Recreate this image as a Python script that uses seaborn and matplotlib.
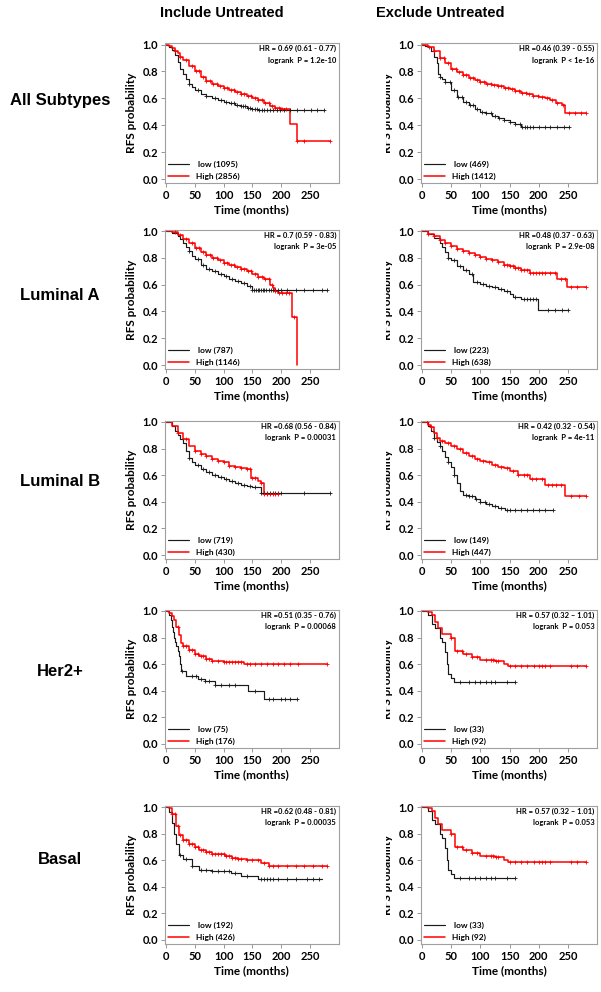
"""
Kaplan-Meier RFS curves by subtype, include / exclude untreated patients.
"""

import numpy as np
import matplotlib
matplotlib.use('Agg')
import matplotlib.pyplot as plt
import seaborn as sns
from matplotlib.transforms import Bbox

# ── Data ───────────────────────────────────────────────────────────────────────
# All subtypes, include untreated
all_inc_low_t = [0, 5, 10, 15, 20, 25, 30, 35, 40, 45, 50, 60, 70, 80, 90, 100, 110, 120, 130, 140, 150, 160, 275]
all_inc_low_s = [1.0, 0.985, 0.96, 0.92, 0.87, 0.82, 0.78, 0.74, 0.71, 0.685, 0.66, 0.635, 0.615, 0.6, 0.59, 0.575, 0.565, 0.55, 0.54, 0.525, 0.52, 0.515, 0.515]
all_inc_low_c = [40, 55, 70, 85, 95, 105, 112, 118, 124, 130, 134, 138, 142, 146, 150, 154, 158, 162, 166, 170, 175, 180, 186, 192, 198, 205, 215, 228, 240, 252, 263, 275]
all_inc_high_t = [0, 5, 10, 15, 20, 25, 30, 40, 50, 60, 70, 80, 90, 100, 110, 120, 130, 140, 150, 160, 170, 180, 190, 200, 215, 227, 285]
all_inc_high_s = [1.0, 0.99, 0.975, 0.955, 0.935, 0.91, 0.885, 0.84, 0.8, 0.76, 0.73, 0.71, 0.69, 0.675, 0.66, 0.65, 0.635, 0.62, 0.605, 0.585, 0.565, 0.545, 0.53, 0.52, 0.41, 0.28, 0.28]
all_inc_high_c = [15, 25, 35, 45, 52, 58, 64, 70, 76, 82, 88, 94, 100, 106, 112, 118, 124, 130, 136, 142, 148, 154, 160, 166, 172, 178, 184, 190, 196, 202, 208, 228, 240, 285]

# All subtypes, exclude untreated
all_exc_low_t = [0, 5, 10, 15, 20, 25, 27, 30, 35, 40, 50, 60, 70, 80, 90, 100, 110, 120, 130, 140, 150, 160, 170, 251]
all_exc_low_s = [1.0, 0.99, 0.98, 0.955, 0.91, 0.86, 0.78, 0.76, 0.74, 0.72, 0.66, 0.61, 0.575, 0.55, 0.52, 0.5, 0.49, 0.47, 0.455, 0.44, 0.425, 0.41, 0.385, 0.385]
all_exc_low_c = [30, 40, 48, 55, 62, 68, 75, 82, 88, 95, 102, 110, 118, 125, 132, 140, 150, 160, 168, 172, 176, 180, 185, 190, 200, 210, 220, 232, 244, 251]
all_exc_high_t = [0, 10, 20, 30, 40, 50, 60, 70, 80, 90, 100, 110, 120, 130, 140, 150, 160, 170, 180, 190, 200, 210, 220, 230, 240, 245, 280]
all_exc_high_s = [1.0, 0.98, 0.95, 0.9, 0.86, 0.82, 0.795, 0.77, 0.75, 0.735, 0.72, 0.71, 0.7, 0.69, 0.68, 0.67, 0.655, 0.64, 0.63, 0.62, 0.61, 0.6, 0.59, 0.565, 0.55, 0.49, 0.49]
all_exc_high_c = [12, 20, 30, 38, 45, 52, 58, 64, 70, 76, 82, 88, 94, 100, 106, 112, 118, 124, 130, 136, 142, 148, 154, 160, 166, 172, 178, 184, 190, 198, 206, 214, 222, 232, 242, 252, 262, 272, 280]

# Luminal A, include untreated
luma_inc_low_t = [0, 10, 20, 25, 30, 35, 40, 45, 50, 60, 70, 80, 90, 100, 110, 120, 130, 140, 150, 280]
luma_inc_low_s = [1.0, 0.985, 0.96, 0.94, 0.91, 0.88, 0.85, 0.815, 0.79, 0.75, 0.72, 0.7, 0.68, 0.665, 0.645, 0.625, 0.61, 0.59, 0.56, 0.56]
luma_inc_low_c = [40, 55, 65, 75, 85, 95, 105, 115, 125, 135, 145, 150, 153, 156, 159, 162, 165, 168, 171, 174, 178, 182, 186, 190, 195, 200, 210, 225, 240, 255, 270, 280]
luma_inc_high_t = [0, 10, 20, 30, 40, 50, 60, 70, 80, 90, 100, 110, 120, 130, 140, 150, 160, 170, 180, 185, 190, 195, 218, 228]
luma_inc_high_s = [1.0, 0.99, 0.97, 0.94, 0.91, 0.87, 0.845, 0.82, 0.8, 0.78, 0.76, 0.745, 0.73, 0.715, 0.7, 0.68, 0.66, 0.64, 0.6, 0.575, 0.555, 0.535, 0.36, 0.0]
luma_inc_high_c = [15, 25, 35, 45, 52, 58, 64, 70, 76, 82, 88, 94, 100, 106, 112, 118, 124, 130, 136, 142, 148, 154, 160, 166, 172, 178, 184, 190, 196, 202, 208, 213, 222]

# Luminal A, exclude untreated
luma_exc_low_t = [0, 10, 20, 30, 35, 40, 45, 50, 60, 70, 80, 88, 100, 110, 120, 130, 140, 150, 156, 170, 199, 250]
luma_exc_low_s = [1.0, 0.98, 0.95, 0.91, 0.88, 0.84, 0.8, 0.78, 0.74, 0.71, 0.68, 0.62, 0.605, 0.59, 0.58, 0.565, 0.55, 0.53, 0.51, 0.495, 0.41, 0.41]
luma_exc_low_c = [45, 55, 65, 75, 85, 95, 105, 115, 125, 135, 145, 160, 175, 180, 185, 190, 195, 215, 228, 240, 250]
luma_exc_high_t = [0, 10, 20, 30, 40, 50, 60, 70, 80, 90, 100, 110, 120, 130, 140, 150, 160, 170, 185, 232, 248, 280]
luma_exc_high_s = [1.0, 0.98, 0.96, 0.935, 0.91, 0.885, 0.865, 0.85, 0.835, 0.82, 0.805, 0.79, 0.78, 0.765, 0.75, 0.74, 0.725, 0.71, 0.685, 0.64, 0.58, 0.58]
luma_exc_high_c = [10, 20, 30, 40, 50, 60, 70, 80, 90, 100, 110, 120, 130, 140, 145, 150, 155, 160, 165, 170, 175, 180, 185, 190, 195, 200, 205, 210, 220, 228, 238, 245, 255, 265, 280]

# Luminal B, include untreated
lumb_inc_low_t = [0, 10, 15, 20, 25, 30, 35, 40, 45, 50, 60, 70, 80, 90, 100, 110, 120, 130, 140, 150, 165, 285]
lumb_inc_low_s = [1.0, 0.97, 0.93, 0.9, 0.87, 0.84, 0.78, 0.73, 0.7, 0.68, 0.65, 0.625, 0.605, 0.585, 0.57, 0.555, 0.54, 0.53, 0.52, 0.51, 0.465, 0.465]
lumb_inc_low_c = [40, 55, 65, 75, 85, 95, 105, 115, 125, 135, 145, 155, 165, 170, 175, 180, 185, 190, 195, 200, 240, 285]
lumb_inc_high_t = [0, 10, 20, 30, 40, 50, 60, 70, 80, 90, 100, 110, 120, 130, 140, 148, 160, 165, 170, 195]
lumb_inc_high_s = [1.0, 0.97, 0.92, 0.87, 0.82, 0.78, 0.76, 0.745, 0.72, 0.71, 0.7, 0.67, 0.66, 0.655, 0.645, 0.58, 0.56, 0.54, 0.455, 0.455]
lumb_inc_high_c = [20, 35, 50, 60, 70, 80, 90, 100, 110, 120, 130, 140, 145, 150, 155, 165, 170, 175, 180, 185, 190, 195]

# Luminal B, exclude untreated
lumb_exc_low_t = [0, 10, 15, 20, 25, 30, 35, 40, 45, 50, 55, 60, 65, 70, 80, 90, 100, 110, 120, 130, 142, 225]
lumb_exc_low_s = [1.0, 0.97, 0.93, 0.88, 0.85, 0.82, 0.78, 0.74, 0.7, 0.66, 0.6, 0.54, 0.48, 0.45, 0.44, 0.42, 0.4, 0.385, 0.37, 0.355, 0.335, 0.335]
lumb_exc_low_c = [20, 30, 45, 55, 75, 80, 85, 92, 100, 108, 115, 125, 135, 145, 150, 160, 170, 180, 190, 200, 210, 225]
lumb_exc_high_t = [0, 10, 15, 20, 25, 30, 40, 50, 60, 70, 80, 90, 100, 110, 120, 130, 140, 150, 165, 185, 210, 245, 280]
lumb_exc_high_s = [1.0, 0.98, 0.96, 0.92, 0.88, 0.86, 0.84, 0.82, 0.795, 0.77, 0.745, 0.72, 0.71, 0.7, 0.68, 0.665, 0.655, 0.635, 0.6, 0.575, 0.525, 0.44, 0.44]
lumb_exc_high_c = [8, 15, 25, 35, 45, 55, 65, 75, 85, 95, 105, 115, 125, 135, 145, 155, 165, 175, 180, 188, 195, 205, 215, 222, 230, 238, 255, 268, 280]

# Her2+, include untreated
her2_inc_low_t = [0, 5, 8, 10, 12, 14, 16, 18, 20, 22, 24, 26, 34, 55, 68, 85, 142, 170, 227]
her2_inc_low_s = [1.0, 0.97, 0.93, 0.88, 0.84, 0.8, 0.77, 0.74, 0.7, 0.66, 0.6, 0.55, 0.51, 0.49, 0.47, 0.445, 0.395, 0.34, 0.34]
her2_inc_low_c = [28, 45, 52, 60, 68, 75, 85, 95, 110, 120, 155, 178, 185, 200, 207, 215, 227]
her2_inc_high_t = [0, 5, 10, 14, 18, 22, 26, 30, 40, 50, 57, 70, 80, 100, 135, 280]
her2_inc_high_s = [1.0, 0.985, 0.96, 0.93, 0.88, 0.82, 0.76, 0.74, 0.71, 0.68, 0.66, 0.64, 0.625, 0.615, 0.6, 0.6]
her2_inc_high_c = [20, 30, 35, 40, 45, 50, 55, 60, 65, 70, 75, 80, 90, 100, 105, 110, 115, 120, 125, 130, 140, 145, 155, 165, 175, 185, 195, 205, 215, 230, 280]

# Her2+ / Basal, exclude untreated (same cohort in both panels)
her2_exc_low_t = [0, 10, 17, 23, 30, 35, 40, 42, 45, 50, 55, 160]
her2_exc_low_s = [1.0, 0.97, 0.9, 0.87, 0.8, 0.77, 0.69, 0.6, 0.53, 0.5, 0.465, 0.465]
her2_exc_low_c = [65, 80, 90, 100, 110, 118, 125, 145, 160]
her2_exc_high_t = [0, 10, 17, 23, 28, 35, 50, 57, 70, 85, 100, 125, 140, 148, 280]
her2_exc_high_s = [1.0, 0.99, 0.97, 0.92, 0.87, 0.83, 0.8, 0.7, 0.675, 0.655, 0.63, 0.625, 0.6, 0.585, 0.585]
her2_exc_high_c = [50, 60, 68, 75, 85, 95, 110, 118, 122, 126, 130, 150, 160, 170, 180, 192, 200, 205, 210, 220, 255, 265, 280]

# Basal, include untreated
basal_inc_low_t = [0, 5, 10, 14, 18, 22, 30, 45, 57, 80, 113, 130, 160, 270]
basal_inc_low_s = [1.0, 0.96, 0.88, 0.8, 0.72, 0.64, 0.61, 0.56, 0.53, 0.52, 0.505, 0.48, 0.455, 0.455]
basal_inc_low_c = [25, 35, 45, 60, 70, 80, 90, 100, 110, 120, 140, 165, 170, 175, 180, 185, 195, 210, 225, 245, 255, 265]
basal_inc_high_t = [0, 5, 10, 17, 23, 30, 40, 50, 57, 70, 80, 90, 102, 115, 125, 140, 150, 165, 178, 280]
basal_inc_high_s = [1.0, 0.99, 0.95, 0.86, 0.79, 0.75, 0.72, 0.7, 0.68, 0.665, 0.65, 0.645, 0.635, 0.62, 0.61, 0.605, 0.6, 0.58, 0.56, 0.56]
basal_inc_high_c = [10, 15, 20, 25, 30, 35, 40, 45, 50, 55, 60, 65, 70, 75, 80, 85, 90, 95, 100, 105, 110, 115, 120, 125, 130, 140, 150, 160, 170, 178, 185, 195, 210, 225, 240, 255, 270, 280]

ROW_LABELS = ['All Subtypes', 'Luminal A', 'Luminal B', 'Her2+', 'Basal']
COL_LABELS = ['Include Untreated', 'Exclude Untreated']

LEGEND_LABELS = [
    [(' low (1095)', 'High (2856)'), (' low (469)', 'High (1412)')],
    [(' low (787)', 'High (1146)'), (' low (223)', 'High (638)')],
    [(' low (719)', 'High (430)'), (' low (149)', 'High (447)')],
    [(' low (75)', 'High (176)'), (' low (33)', 'High (92)')],
    [(' low (192)', 'High (426)'), (' low (33)', 'High (92)')],
]
HR_TEXT = [
    ['HR = 0.69 (0.61 - 0.77)\nlogrank  P = 1.2e-10', 'HR =0.46 (0.39 - 0.55)\nlogrank  P < 1e-16'],
    ['HR = 0.7 (0.59 - 0.83)\nlogrank  P = 3e-05', 'HR =0.48 (0.37 - 0.63)\nlogrank  P = 2.9e-08'],
    ['HR =0.68 (0.56 - 0.84)\nlogrank  P = 0.00031', 'HR = 0.42 (0.32 - 0.54)\nlogrank  P = 4e-11'],
    ['HR =0.51 (0.35 - 0.76)\nlogrank  P = 0.00068', 'HR = 0.57 (0.32 \u2013 1.01)\nlogrank  P = 0.053'],
    ['HR =0.62 (0.48 - 0.81)\nlogrank  P = 0.00035', 'HR = 0.57 (0.32 \u2013 1.01)\nlogrank  P = 0.053'],
]
CURVES = [
    [(all_inc_low_t, all_inc_low_s, all_inc_low_c, all_inc_high_t, all_inc_high_s, all_inc_high_c),
     (all_exc_low_t, all_exc_low_s, all_exc_low_c, all_exc_high_t, all_exc_high_s, all_exc_high_c)],
    [(luma_inc_low_t, luma_inc_low_s, luma_inc_low_c, luma_inc_high_t, luma_inc_high_s, luma_inc_high_c),
     (luma_exc_low_t, luma_exc_low_s, luma_exc_low_c, luma_exc_high_t, luma_exc_high_s, luma_exc_high_c)],
    [(lumb_inc_low_t, lumb_inc_low_s, lumb_inc_low_c, lumb_inc_high_t, lumb_inc_high_s, lumb_inc_high_c),
     (lumb_exc_low_t, lumb_exc_low_s, lumb_exc_low_c, lumb_exc_high_t, lumb_exc_high_s, lumb_exc_high_c)],
    [(her2_inc_low_t, her2_inc_low_s, her2_inc_low_c, her2_inc_high_t, her2_inc_high_s, her2_inc_high_c),
     (her2_exc_low_t, her2_exc_low_s, her2_exc_low_c, her2_exc_high_t, her2_exc_high_s, her2_exc_high_c)],
    [(basal_inc_low_t, basal_inc_low_s, basal_inc_low_c, basal_inc_high_t, basal_inc_high_s, basal_inc_high_c),
     (her2_exc_low_t, her2_exc_low_s, her2_exc_low_c, her2_exc_high_t, her2_exc_high_s, her2_exc_high_c)],
]

# ── Layout (pixels) ────────────────────────────────────────────────────────────
W, H = 601, 992
ROW_Y = [(44.5, 179), (231, 365), (422, 555), (611, 744), (807, 940)]   # y of 1.0 / 0.0
ROW_LABEL_Y = [100, 296, 481, 671, 860]
COL_X = [(166, 0.576), (422, 0.584)]                                    # x of t=0, px per month
XLIM = (-2, 300)
YLIM = (-0.03, 1.01)
LOW_COLOR, HIGH_COLOR = '#1a1a1a', '#ff0000'

sns.set_style('white')
plt.rcParams['font.family'] = ['Lato', 'DejaVu Sans']
plt.rcParams['font.weight'] = 'bold'
plt.rcParams['text.color'] = 'black'
plt.rcParams['axes.labelcolor'] = 'black'
plt.rcParams['xtick.color'] = 'black'
plt.rcParams['ytick.color'] = 'black'


def censor_y(t, s, c):
    idx = np.searchsorted(np.asarray(t), np.asarray(c), side='right') - 1
    return np.asarray(s)[idx]


def km_panel(ax, curves, labels, hr_text):
    lt, ls, lc, ht, hs, hc = curves
    for t, s, c, col, lab, lw in [(lt, ls, lc, LOW_COLOR, labels[0], 0.85),
                                  (ht, hs, hc, HIGH_COLOR, labels[1], 1.1)]:
        sns.lineplot(x=t, y=s, drawstyle='steps-post', color=col, linewidth=lw,
                     estimator=None, sort=False, label=lab, ax=ax)
        sns.scatterplot(x=c, y=censor_y(t, s, c), marker='+', color=col, s=9,
                        linewidth=0.6, legend=False, ax=ax, zorder=3)
    ax.set_xlim(*XLIM)
    ax.set_ylim(*YLIM)
    ax.set_xticks([0, 50, 100, 150, 200, 250])
    ax.set_yticks([0.0, 0.2, 0.4, 0.6, 0.8, 1.0])
    ax.set_yticklabels(['0.0', '0.2', '0.4', '0.6', '0.8', '1.0'])
    ax.tick_params(axis='both', length=3, width=0.6, color='#888888', labelsize=8, pad=2,
                   bottom=True, left=True)
    for sp in ax.spines.values():
        sp.set_color('#a0a0a0')
        sp.set_linewidth(0.8)
    ax.set_xlabel('Time (months)', fontsize=8.5, fontweight='bold', labelpad=2)
    ax.set_ylabel('RFS probability', fontsize=8.5, fontweight='bold', labelpad=4)
    ax.text(0.985, 0.985, hr_text, transform=ax.transAxes, ha='right', va='top',
            fontsize=5.5, fontweight='bold', linespacing=1.7)
    leg = ax.legend(loc='lower left', bbox_to_anchor=(0.0, 0.0), frameon=False,
                    fontsize=6, handlelength=2.6, handletextpad=0.8, labelspacing=0.55,
                    borderaxespad=0.15, borderpad=0.2)
    for txt in leg.get_texts():
        txt.set_fontweight('bold')


fig = plt.figure(figsize=(W / 100, H / 100), dpi=100)

for r, (y1, y0) in enumerate(ROW_Y):
    u = y0 - y1
    top = y1 - (YLIM[1] - 1.0) * u
    bottom = y0 - YLIM[0] * u
    for c, (x0, k) in enumerate(COL_X):
        left = x0 + XLIM[0] * k
        width = (XLIM[1] - XLIM[0]) * k
        ax = fig.add_axes([left / W, 1 - bottom / H, width / W, (bottom - top) / H])
        km_panel(ax, CURVES[r][c], LEGEND_LABELS[r][c], HR_TEXT[r][c])
        if c == 1:
            # right-column y label is cut off in the original figure
            ax.yaxis.label.set_clip_box(Bbox([[386, 0], [W, H]]))
            ax.yaxis.label.set_clip_on(True)
    fig.text(60 / W, 1 - ROW_LABEL_Y[r] / H, ROW_LABELS[r], ha='center', va='center',
             fontsize=12, fontweight='bold', family=['Liberation Sans', 'DejaVu Sans'])

for c, xc in enumerate([222, 440]):
    fig.text(xc / W, 1 - 13 / H, COL_LABELS[c], ha='center', va='center',
             fontsize=10.5, fontweight='bold', family=['Liberation Sans', 'DejaVu Sans'])

fig.savefig('out.png', dpi=100)
plt.close(fig)
